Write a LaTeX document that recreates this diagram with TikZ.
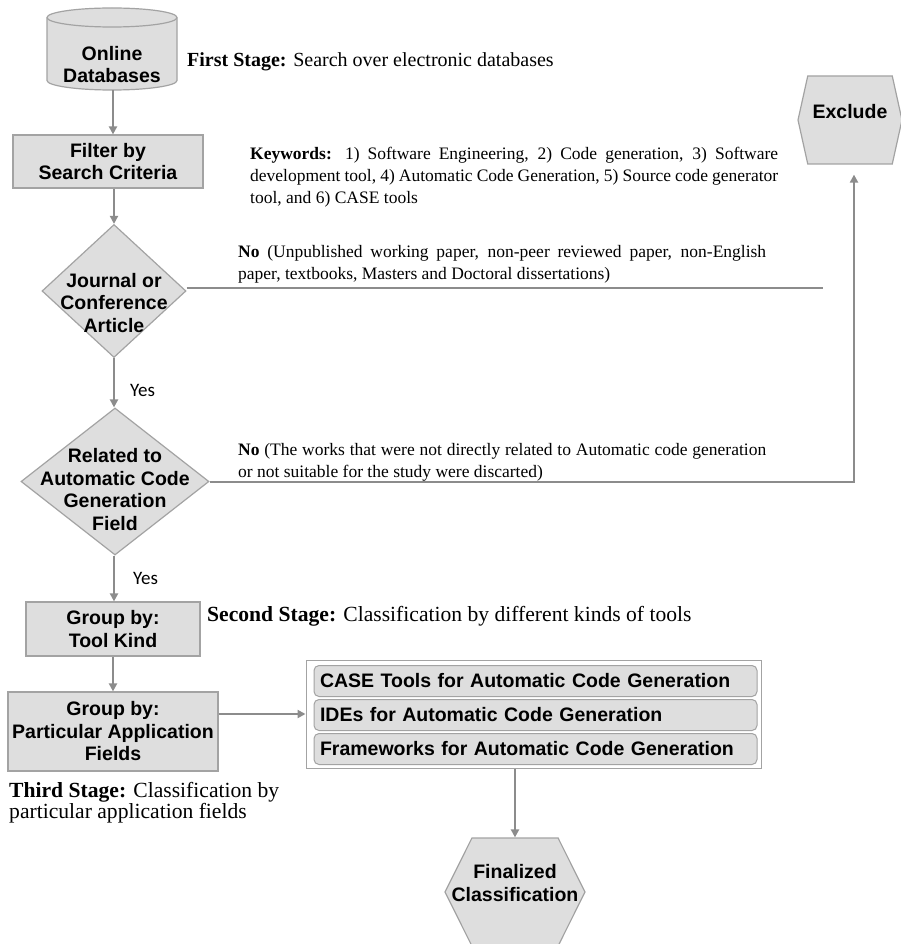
\documentclass[tikz,border=0pt]{standalone}
\usepackage{fontspec}
\setmainfont{Liberation Serif}
\setsansfont{Liberation Sans}
\newfontfamily\yesfont{Carlito}
\usetikzlibrary{shapes.geometric,shapes.symbols,arrows.meta}

\definecolor{boxgray}{HTML}{DEDEDE}
\definecolor{edgegray}{HTML}{A3A3A3}
\definecolor{flowgray}{HTML}{8C8C8C}

\newcommand{\boxfont}{\sffamily\bfseries\fontsize{19.5}{22.5}\selectfont}
\newcommand{\stagefont}{\fontsize{20}{21.5}\selectfont}
\newcommand{\bigstagefont}{\fontsize{21.6}{21.5}\selectfont}
\newcommand{\notefont}{\fontsize{17.5}{22}\selectfont\hyphenpenalty=10000\exhyphenpenalty=10000}

\begin{document}
\begin{tikzpicture}[x=1pt,y=-1pt,
  box/.style={draw=edgegray,fill=boxgray,line width=1.2pt,align=center,font=\boxfont,inner sep=0pt},
  decision/.style={box,diamond,inner sep=0pt},
  hexa/.style={box,signal,signal to=west and east},
  lbl/.style={font=\boxfont,align=center},
  item/.style={draw=edgegray,fill=boxgray,line width=1pt,rounded corners=5pt,font=\boxfont,
    minimum height=31,text width=431,align=left,inner xsep=6pt,inner ysep=0pt},
  stage/.style={font=\stagefont,inner sep=0pt},
  note/.style={font=\notefont,inner sep=0pt,text width=528,align=justify,anchor=north west},
  yes/.style={font=\yesfont\fontsize{19}{22}\selectfont,inner sep=0pt},
  flow/.style={draw=flowgray,line width=2pt},
  arr/.style={flow,-{Triangle[length=8pt,width=8pt]}}]

\fill[white] (0,0) rectangle (901,944);
\useasboundingbox (0,0) rectangle (901,944);

% First stage: database drum
\filldraw[draw=edgegray,fill=boxgray,line width=1.2pt] (47,17.5) -- (47,80.5)
  arc[start angle=180,end angle=0,x radius=65,y radius=9.5] -- (177,17.5)
  arc[start angle=0,end angle=-180,x radius=65,y radius=9.5] -- cycle;
\draw[edgegray,line width=1.2pt] (47,17.5) arc[start angle=180,end angle=0,x radius=65,y radius=9.5];
\node[lbl] (db) at (112,64.5) {Online\\Databases};
\coordinate (dbbase) at (113,90);
\node[stage,anchor=west] (st1) at (187,62) {\textbf{First Stage:} Search over electronic databases};

\node[box,minimum width=190,minimum height=53] (filt) at (108,161.5) {Filter by\\Search Criteria};
\node[note] (kw) at (250,147) {\textbf{Keywords:} 1) Software Engineering, 2) Code generation, 3) Software\linebreak development tool, 4) Automatic Code Generation, 5) Source code generator\linebreak tool, and 6) CASE tools};

% Decisions
\node[decision,minimum width=144,minimum height=133,
  label={[lbl,yshift=-12pt]center:{Journal or\\Conference\\Article}}] (d1) at (114,291) {};
\node[note] (no1) at (238,245.5) {\textbf{No} (Unpublished working paper, non-peer reviewed paper, non-English\linebreak paper, textbooks, Masters and Doctoral dissertations)};
\coordinate (nend) at (823,287.5);

\node[yes,anchor=west] (y1) at (130,390) {Yes};

\node[decision,minimum width=188,minimum height=147,
  label={[lbl,yshift=-8pt]center:{Related to\\Automatic Code\\Generation\\Field}}] (d2) at (115,481.5) {};
\node[note] (no2) at (238,443) {\textbf{No} (The works that were not directly related to Automatic code generation or not suitable for the study were discarted)};

\node[hexa,minimum width=104,minimum height=88,signal pointer angle=155,
  label={[lbl,yshift=8pt]center:Exclude}] (excl) at (850,120) {};

\node[yes,anchor=west] (y2) at (133,578) {Yes};

% Second stage
\node[box,minimum width=174,minimum height=54] (tool) at (113,629) {Group by:\\Tool Kind};
\node[stage,font=\bigstagefont,anchor=west] (st2) at (207,616) {\textbf{Second Stage:} Classification by different kinds of tools};

% Third stage
\node[box,minimum width=210,minimum height=79] (app) at (113,731.5) {Group by:\\Particular Application\\Fields};
\node[stage,font=\bigstagefont,anchor=north west,align=left] (st3) at (9,782) {\textbf{Third Stage:} Classification by\\particular application fields};

\node[draw=edgegray,fill=white,line width=1pt,minimum width=455,minimum height=108,inner sep=0pt] (lst) at (533.5,714) {};
\node[item] (it1) at (535.5,681) {CASE Tools for Automatic Code Generation};
\node[item] (it2) at (535.5,715) {IDEs for Automatic Code Generation};
\node[item] (it3) at (535.5,749) {Frameworks for Automatic Code Generation};

\node[hexa,minimum width=140,minimum height=108,signal pointer angle=127,
  label={[lbl,yshift=9pt]center:{Finalized\\Classification}}] (fin) at (515,892) {};

% Connectors
\draw[arr] (dbbase) -- (dbbase |- filt.north);
\draw[arr] (filt.south -| d1.north) -- (d1.north);
\draw[flow] (d1.east |- nend) -- (nend);
\draw[arr] (d1.south) -- (d1.south |- d2.north);
\draw[arr,shorten >=10pt] (d2.east) -| ([xshift=4pt]excl.south);
\draw[arr] (d2.south -| d1.south) -- (d1.south |- tool.north);
\draw[arr] (tool.south) -- (app.north);
\draw[arr] (app.east |- lst.west) -- (lst.west);
\draw[arr] (lst.south -| fin.north) -- (fin.north);

\end{tikzpicture}
\end{document}
